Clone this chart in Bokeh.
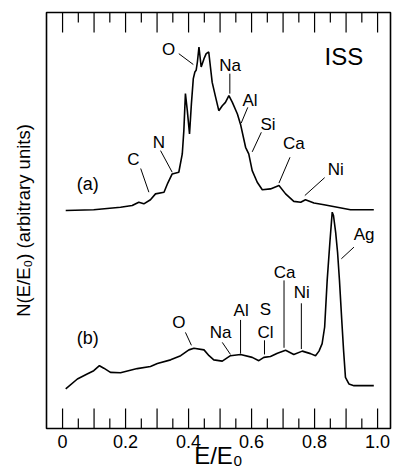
from bokeh.plotting import figure
from bokeh.models import Range1d, FixedTicker
from bokeh.core.properties import value
from bokeh.embed import file_html
from bokeh.resources import INLINE

# ---- data ----
# spectrum (a)
A_X = [0.010, 0.099, 0.184, 0.221, 0.242, 0.258, 0.279, 0.295, 0.322, 0.334, 0.348, 0.369,
       0.380, 0.385, 0.390, 0.396, 0.403, 0.409, 0.415, 0.420, 0.424, 0.428, 0.433, 0.440,
       0.449, 0.456, 0.464, 0.475, 0.486, 0.496, 0.507, 0.517, 0.528, 0.539, 0.555, 0.565,
       0.581, 0.591, 0.602, 0.618, 0.634, 0.660, 0.687, 0.708, 0.734, 0.756, 0.771, 0.798,
       0.830, 0.872, 0.914, 0.988]
A_Y = [52.4, 52.6, 53.2, 53.6, 54.4, 54.0, 55.0, 56.4, 56.8, 59.0, 61.2, 61.6,
       66.0, 71.6, 80.5, 76.4, 70.8, 78.1, 84.1, 85.7, 86.1, 88.1, 91.7, 86.9,
       88.9, 90.1, 90.5, 83.2, 79.6, 76.4, 77.6, 78.4, 80.0, 78.4, 75.6, 73.1,
       67.6, 66.0, 62.0, 59.2, 57.4, 57.6, 58.4, 56.4, 54.6, 54.4, 55.0, 54.2,
       53.8, 53.2, 52.6, 52.6]

# spectrum (b)
B_X = [0.010, 0.047, 0.078, 0.099, 0.117, 0.131, 0.152, 0.184, 0.237, 0.279, 0.301, 0.343,
       0.375, 0.401, 0.417, 0.449, 0.465, 0.480, 0.507, 0.533, 0.565, 0.602, 0.623, 0.639,
       0.660, 0.682, 0.708, 0.734, 0.761, 0.787, 0.803, 0.814, 0.824, 0.832, 0.840, 0.849,
       0.856, 0.860, 0.867, 0.873, 0.879, 0.886, 0.892, 0.898, 0.909, 0.925, 0.988]
B_Y = [9.5, 11.9, 13.1, 13.9, 15.1, 14.5, 13.5, 13.4, 14.4, 14.9, 15.6, 16.5,
       17.5, 18.9, 19.3, 18.9, 17.5, 16.5, 16.2, 17.5, 17.8, 17.1, 16.3, 17.1,
       17.3, 18.1, 18.8, 17.8, 18.6, 18.0, 17.5, 18.6, 20.4, 24.4, 35.6, 45.2,
       52.0, 51.2, 47.1, 42.3, 35.6, 26.4, 18.8, 12.3, 10.7, 10.3, 10.3]

# element labels
LBL_TEXT = ["C", "N", "O", "Na", "Al", "Si", "Ca", "Ni",
            "O", "Na", "Al", "S", "Cl", "Ca", "Ni", "Ag"]
LBL_X = [0.225, 0.306, 0.337, 0.532, 0.595, 0.652, 0.734, 0.867,
         0.369, 0.502, 0.567, 0.644, 0.644, 0.705, 0.759, 0.957]
LBL_Y = [64.7, 68.8, 91.0, 87.3, 78.8, 73.1, 68.4, 62.3,
         25.6, 23.1, 28.4, 28.5, 23.1, 37.6, 32.6, 46.6]

# leader lines from label to peak
LEAD_X0 = [0.248, 0.311, 0.369, 0.531, 0.588, 0.631, 0.722, 0.832,
           0.390, 0.507, 0.565, 0.641, 0.703, 0.758, 0.925]
LEAD_Y0 = [62.5, 66.8, 90.1, 85.3, 77.2, 71.2, 65.2, 60.3,
           23.1, 20.7, 26.1, 21.2, 35.6, 30.1, 43.6]
LEAD_X1 = [0.274, 0.348, 0.415, 0.531, 0.567, 0.602, 0.687, 0.769,
           0.409, 0.533, 0.565, 0.641, 0.703, 0.758, 0.885]
LEAD_Y1 = [56.8, 61.6, 87.5, 80.5, 73.4, 66.5, 59.0, 56.0,
           20.0, 17.8, 18.0, 17.8, 19.4, 19.1, 40.8]

# panel tags
TAG_TEXT = ["(a)", "(b)"]
TAG_X = [0.080, 0.080]
TAG_Y = [58.7, 21.8]

TITLE_TEXT = ["ISS"]
TITLE_X = [0.893]
TITLE_Y = [89.4]

XTICKS = [0.0, 0.1, 0.2, 0.3, 0.4, 0.5, 0.6, 0.7, 0.8, 0.9, 1.0]
XTICK_LABELS = ["0", "", "0.2", "", "0.4", "", "0.6", "", "0.8", "", "1.0"]
XMINOR = [0.05, 0.15, 0.25, 0.35, 0.45, 0.55, 0.65, 0.75, 0.85, 0.95]

FONT = "Liberation Sans"
X_START, X_END = -0.051, 1.041
Y_START, Y_END = 0.0, 100.0
MAJOR_LEN = 4.8   # inward tick length, in y units (about 20 px)
MINOR_LEN = 2.4   # about 10 px

p = figure(width=392, height=474,
           x_range=Range1d(X_START, X_END), y_range=Range1d(Y_START, Y_END),
           output_backend="svg", toolbar_location=None,
           min_border_left=46, min_border_right=2, min_border_top=12, min_border_bottom=46,
           x_axis_label="E/E\u2080", y_axis_label="N(E/E\u2080) (arbitrary units)")
p.grid.visible = False
p.outline_line_color = "black"
p.outline_line_width = 1.6
p.background_fill_color = "white"
p.border_fill_color = "white"

xa = p.xaxis[0]
xa.ticker = FixedTicker(ticks=XTICKS, minor_ticks=XMINOR)
xa.major_label_overrides = {t: l for t, l in zip(XTICKS, XTICK_LABELS)}
xa.major_tick_line_color = None
xa.minor_tick_line_color = None
xa.major_tick_out = 0
xa.minor_tick_out = 0
xa.axis_line_color = None
xa.major_label_text_font = FONT
xa.major_label_text_font_size = "18px"
xa.major_label_text_color = "black"
xa.major_label_standoff = 6
xa.axis_label_text_font = FONT
xa.axis_label_text_font_size = "24px"
xa.axis_label_text_font_style = "normal"
xa.axis_label_text_color = "black"
xa.axis_label_standoff = -9

ya = p.yaxis[0]
ya.ticker = FixedTicker(ticks=[])
ya.axis_line_color = None
ya.major_tick_line_color = None
ya.minor_tick_line_color = None
ya.major_label_standoff = 0
ya.axis_label_text_font = FONT
ya.axis_label_text_font_size = "18.5px"
ya.axis_label_text_font_style = "normal"
ya.axis_label_text_color = "black"
ya.axis_label_standoff = 13

# inward ticks on bottom and top edges, at the tick values
for ticks, ln in ((XTICKS, MAJOR_LEN), (XMINOR, MINOR_LEN)):
    p.segment(x0=ticks, y0=[Y_START] * len(ticks), x1=ticks, y1=[Y_START + ln] * len(ticks),
              line_color="black", line_width=1.2)
    p.segment(x0=ticks, y0=[Y_END] * len(ticks), x1=ticks, y1=[Y_END - ln] * len(ticks),
              line_color="black", line_width=1.2)

p.line(A_X, A_Y, line_color="black", line_width=1.6)
p.line(B_X, B_Y, line_color="black", line_width=1.6)
p.segment(LEAD_X0, LEAD_Y0, LEAD_X1, LEAD_Y1, line_color="black", line_width=1)

p.text(LBL_X, LBL_Y, text=LBL_TEXT, text_font=value(FONT), text_font_size="17px",
       text_align="center", text_baseline="middle", text_color="black")
p.text(TAG_X, TAG_Y, text=TAG_TEXT, text_font=value(FONT), text_font_size="18px",
       text_align="center", text_baseline="middle", text_color="black")
p.text(TITLE_X, TITLE_Y, text=TITLE_TEXT, text_font=value(FONT), text_font_size="24px",
       text_align="center", text_baseline="middle", text_color="black")

open("out.html", "w").write(file_html(p, INLINE))
